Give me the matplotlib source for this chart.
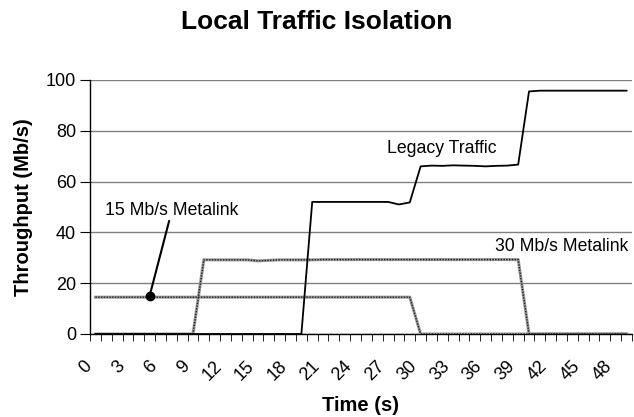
import matplotlib
matplotlib.use('Agg')
import matplotlib.pyplot as plt
import numpy as np

plt.rcParams['font.family'] = ['Liberation Sans', 'DejaVu Sans']

time_s = list(range(50))
legacy = [0] * 20 + [52, 52, 52, 52, 52, 52, 52, 52, 51, 51.8,
                     66, 66.3, 66.2, 66.4, 66.3, 66.2, 66.0, 66.2, 66.3, 66.7,
                     95.5, 95.8, 95.8, 95.8, 95.8, 95.8, 95.8, 95.8, 95.8, 95.8]
metal30 = [0] * 10 + [29.2, 29.2, 29.2, 29.2, 29.2, 28.8, 29.0, 29.2, 29.2, 29.2,
                      29.2] + [29.3] * 19 + [0] * 10
metal15 = [14.5] * 30 + [0] * 20
tick_labels = [str(t) for t in time_s[::3]]

fig = plt.figure(figsize=(6.34, 4.17), dpi=100)
ax = fig.add_axes([90 / 634, 1 - 334 / 417, (632 - 90) / 634, (334 - 80) / 417])

x = np.array(time_s)
ax.plot(x, metal15, color='#9a9a9a', lw=2.2, zorder=3)
ax.plot(x, metal15, color='#202020', lw=1.0, ls=(0, (1, 1)), zorder=4)
ax.plot(x, metal30, color='#9a9a9a', lw=2.2, zorder=3)
ax.plot(x, metal30, color='#202020', lw=1.0, ls=(0, (1, 1)), zorder=4)
ax.plot(x, legacy, color='black', lw=1.3, zorder=5)

ax.set_xlim(-0.5, 49.5)
ax.set_ylim(0, 100)
ax.set_yticks([0, 20, 40, 60, 80, 100])
ax.yaxis.grid(True, color='#808080', lw=1)
ax.set_axisbelow(True)
for s in ['top', 'right']:
    ax.spines[s].set_visible(False)
ax.spines['left'].set_linewidth(1)
ax.spines['bottom'].set_linewidth(1)

ax.set_xticks(x[::3])
ax.set_xticklabels(tick_labels, rotation=45, ha='right', va='top')
ax.set_xticks(np.arange(-0.5, 50, 1), minor=True)
ax.tick_params(axis='x', which='major', length=0, labelsize=13, pad=17)
ax.tick_params(axis='x', which='minor', length=5, direction='out')
ax.tick_params(axis='y', length=7, labelsize=13, pad=3)

ax.set_xlabel('Time (s)', fontsize=14.5, fontweight='bold', labelpad=9)
ax.set_ylabel('Throughput (Mb/s)', fontsize=14.5, fontweight='bold', labelpad=9)
fig.text(0.5, 1 - 29 / 417, 'Local Traffic Isolation', ha='center', va='baseline',
         fontsize=19, fontweight='bold')

ax.text(32, 73.2, 'Legacy Traffic', ha='center', va='center', fontsize=12.7)
ax.text(43, 34.3, '30 Mb/s Metalink', ha='center', va='center', fontsize=12.7)
ax.text(7, 48.8, '15 Mb/s Metalink', ha='center', va='center', fontsize=12.7)
ax.annotate('', xy=(5, 15), xytext=(6.8, 44.5),
            arrowprops=dict(arrowstyle='-', lw=1.5, color='black', shrinkA=0, shrinkB=0))
ax.plot([5], [15], 'o', color='black', ms=6, zorder=6)

fig.savefig('out.png', dpi=100)
